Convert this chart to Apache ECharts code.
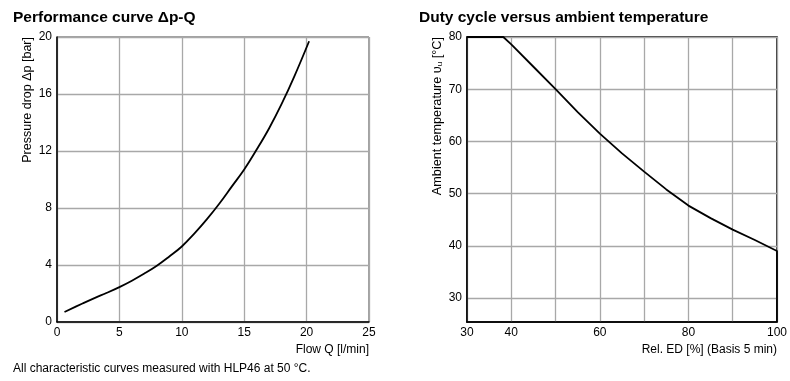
<!DOCTYPE html>
<html>
<head>
<meta charset="utf-8">
<script src="https://cdn.jsdelivr.net/npm/echarts@6/dist/echarts.min.js"></script>
<style>
html,body{margin:0;padding:0;background:#fff;}
#c{width:790px;height:381px;}
</style>
</head>
<body>
<div id="c"></div>
<script>
// Left chart: Performance curve Δp-Q
const flowQ = [0.6, 2, 3, 4, 5, 6, 7, 8, 9, 10, 11, 12, 13, 14, 15, 16, 17, 18, 19, 20.2];
const pressureDrop = [0.7, 1.28, 1.68, 2.05, 2.45, 2.9, 3.4, 3.95, 4.6, 5.3, 6.2, 7.2, 8.3, 9.5, 10.7, 12.1, 13.6, 15.3, 17.2, 19.7];
// Right chart: Duty cycle versus ambient temperature
const relED = [30, 38.2, 40, 45, 50, 55, 60, 65, 70, 75, 80, 85, 90, 95, 100, 100];
const ambientTemp = [80, 80, 78.6, 74.3, 70, 65.6, 61.5, 57.7, 54.2, 50.8, 47.7, 45.3, 43.1, 41.1, 39.0, 25.4];
const rightYTicks = [30, 40, 50, 60, 70, 80];
const rightXLabels = [30, 40, 60, 80, 100];

const FONT = '"Liberation Sans", Arial, Helvetica, sans-serif';
const gridColor = '#a8a8a8';

function pairs(xs, ys) { return xs.map((x, i) => [x, ys[i]]); }

const chart = echarts.init(document.getElementById('c'), null, {renderer: 'canvas'});
const axisLbl = {color: '#000', fontSize: 12, fontFamily: FONT};

chart.setOption({
  animation: false,
  backgroundColor: '#fff',
  textStyle: {fontFamily: FONT},
  title: [
    {text: 'Performance curve \u0394p-Q', left: 8, top: 5, textStyle: {fontSize: 15.5, fontWeight: 'bold', color: '#000', fontFamily: FONT}},
    {text: 'Duty cycle versus ambient temperature', left: 414, top: 5, textStyle: {fontSize: 15.5, fontWeight: 'bold', color: '#000', fontFamily: FONT}},
    {text: 'All characteristic curves measured with HLP46 at 50 \u00B0C.', left: 8, top: 358, textStyle: {fontSize: 12, fontWeight: 'normal', color: '#000', fontFamily: FONT}}
  ],
  grid: [
    {left: 57, right: 421, top: 37, bottom: 59, show: true, borderColor: '#444', borderWidth: 1},
    {left: 467, right: 13, top: 37, bottom: 59, show: true, borderColor: '#000', borderWidth: 1.5}
  ],
  xAxis: [
    {gridIndex: 0, type: 'value', min: 0, max: 25, interval: 5,
     name: 'Flow Q [l/min]', nameLocation: 'end', nameGap: 0,
     nameTextStyle: {fontSize: 12, color: '#000', fontFamily: FONT, align: 'right', verticalAlign: 'top', padding: [22, 0, 0, 0]},
     axisLine: {lineStyle: {color: '#000', width: 1.5}}, axisTick: {show: false},
     axisLabel: Object.assign({margin: 5}, axisLbl),
     splitLine: {show: true, lineStyle: {color: gridColor, width: 1.3}}},
    {gridIndex: 1, type: 'value', min: 30, max: 100, interval: 10,
     name: 'Rel. ED [%] (Basis 5 min)', nameLocation: 'end', nameGap: 0,
     nameTextStyle: {fontSize: 12, color: '#000', fontFamily: FONT, align: 'right', verticalAlign: 'top', padding: [22, 0, 0, 0]},
     axisLine: {lineStyle: {color: '#000', width: 1.5}}, axisTick: {show: false},
     axisLabel: Object.assign({margin: 5, customValues: rightXLabels}, axisLbl),
     splitLine: {show: true, lineStyle: {color: gridColor, width: 1.3}}}
  ],
  yAxis: [
    {gridIndex: 0, type: 'value', min: 0, max: 20, interval: 4,
     axisLine: {lineStyle: {color: '#000', width: 1.5}}, axisTick: {show: false},
     axisLabel: Object.assign({margin: 5}, axisLbl),
     splitLine: {show: true, lineStyle: {color: gridColor, width: 1.3}}},
    {gridIndex: 1, type: 'value', min: 25.4, max: 80,
     axisLine: {lineStyle: {color: '#000', width: 1.5}},
     axisTick: {show: false, customValues: rightYTicks},
     axisLabel: Object.assign({margin: 5, customValues: rightYTicks}, axisLbl),
     splitLine: {show: true, lineStyle: {color: gridColor, width: 1.3}}}
  ],
  graphic: [
    {type: 'text', x: 28, y: 37, rotation: Math.PI / 2,
     style: {text: 'Pressure drop \u0394p [bar]', fontSize: 12.5, fontFamily: FONT, fill: '#000', align: 'right', verticalAlign: 'middle'}},
    {type: 'text', x: 437, y: 37, rotation: Math.PI / 2,
     style: {text: 'Ambient temperature \u03C5{s|u} [\u00B0C]', fontSize: 12.7, fontFamily: FONT, fill: '#000', align: 'right', verticalAlign: 'middle',
       rich: {s: {fontSize: 8, fontFamily: FONT, fill: '#000', verticalAlign: 'bottom', padding: [6, 0, 0, 0]}}}}
  ],
  series: [
    {type: 'line', xAxisIndex: 0, yAxisIndex: 0, data: pairs(flowQ, pressureDrop), smooth: 0.4, showSymbol: false,
     lineStyle: {color: '#000', width: 1.8}},
    {type: 'line', xAxisIndex: 1, yAxisIndex: 1, data: pairs(relED, ambientTemp), smooth: false, showSymbol: false,
     lineStyle: {color: '#000', width: 1.8}}
  ]
});
</script>
</body>
</html>
